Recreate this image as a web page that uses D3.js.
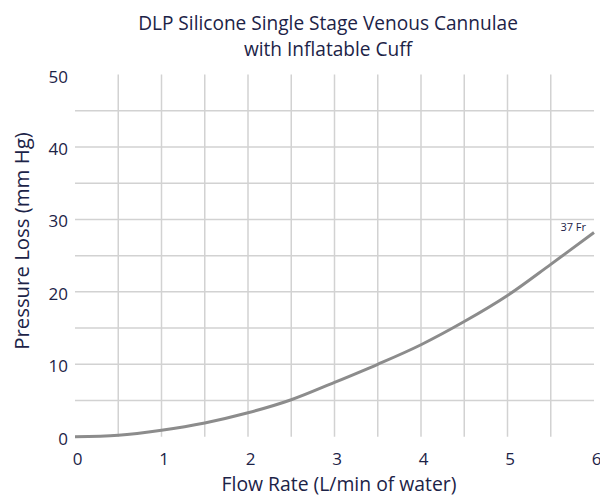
<!DOCTYPE html>
<html>
<head>
<meta charset="utf-8">
<script src="https://cdn.jsdelivr.net/npm/d3@7"></script>
<style>
  html, body { margin: 0; padding: 0; background: #ffffff; }
  svg { display: block; }
</style>
</head>
<body>
<svg id="chart" width="600" height="496"></svg>
<script>
// ---- data ----
const flowRates = [0, 0.5, 1, 1.5, 2, 2.5, 3, 3.5, 4, 4.5, 5, 5.5, 6];
const pressureLoss37Fr = [0, 0.2, 0.9, 1.9, 3.3, 5.1, 7.5, 10.0, 12.7, 15.9, 19.5, 23.8, 28.2];
const seriesName = "37 Fr";
const xTickValues = [0, 1, 2, 3, 4, 5, 6];
const yTickValues = [0, 10, 20, 30, 40, 50];
const xGridValues = [0.5, 1, 1.5, 2, 2.5, 3, 3.5, 4, 4.5, 5, 5.5];
const yGridValues = [5, 10, 15, 20, 25, 30, 35, 40, 45];
const titleLines = ["DLP Silicone Single Stage Venous Cannulae", "with Inflatable Cuff"];
const xTitle = "Flow Rate (L/min of water)";
const yTitle = "Pressure Loss (mm Hg)";

// ---- layout ----
const font = "'Open Sans', sans-serif";
const textColor = "#1c2347";
const svg = d3.select("#chart");
const x = d3.scaleLinear().domain([0, 6]).range([75, 594]);
const y = d3.scaleLinear().domain([0, 50]).range([436.7, 74.6]);

// fit helper: font size so text reaches a target width
function fitSize(sel, target, base) {
  const w = sel.node().getComputedTextLength();
  return w > 0 ? base * target / w : base;
}

// grid
const grid = svg.append("g");
grid.selectAll("line.v").data(xGridValues).enter().append("line")
  .attr("x1", d => x(d)).attr("x2", d => x(d))
  .attr("y1", y(50)).attr("y2", y(0))
  .attr("stroke", "#d2d2d2").attr("stroke-width", 1.5);
grid.selectAll("line.h").data(yGridValues).enter().append("line")
  .attr("x1", x(0)).attr("x2", x(6))
  .attr("y1", d => y(d)).attr("y2", d => y(d))
  .attr("stroke", "#d2d2d2").attr("stroke-width", 1.5);

// axes (labels only)
const xAxis = d3.axisBottom(x).tickValues(xTickValues).tickSize(0).tickPadding(0).tickFormat(d3.format("d"));
const gx = svg.append("g").attr("transform", `translate(2,${y(0) + 28.5})`).call(xAxis);
gx.select(".domain").remove();
gx.selectAll("text").attr("font-family", font).attr("font-size", 17).attr("fill", textColor).attr("dy", null);

const yAxis = d3.axisLeft(y).tickValues(yTickValues).tickSize(0).tickPadding(0).tickFormat(d3.format("d"));
const gy = svg.append("g").attr("transform", `translate(68,2)`).call(yAxis);
gy.select(".domain").remove();
gy.selectAll("text").attr("font-family", font).attr("font-size", 17).attr("fill", textColor);

// line
const line = d3.line()
  .x((d, i) => x(flowRates[i]))
  .y(d => y(d))
  .curve(d3.curveCatmullRom.alpha(0.5));
svg.append("path")
  .datum(pressureLoss37Fr)
  .attr("d", line)
  .attr("fill", "none")
  .attr("stroke", "#8c8c8c")
  .attr("stroke-width", 3);

// series label
svg.append("text")
  .attr("x", x(6) - 8).attr("y", y(pressureLoss37Fr[pressureLoss37Fr.length - 1]) - 1)
  .attr("text-anchor", "end")
  .attr("font-family", font).attr("font-size", 11).attr("fill", textColor)
  .text(seriesName);

// titles
const t1 = svg.append("text")
  .attr("x", 328).attr("y", 30)
  .attr("text-anchor", "middle")
  .attr("font-family", font).attr("font-size", 18).attr("fill", textColor)
  .text(titleLines[0]);
const titleSize = fitSize(t1, 380, 18);
t1.attr("font-size", titleSize);
svg.append("text")
  .attr("x", 328).attr("y", 55.5)
  .attr("text-anchor", "middle")
  .attr("font-family", font).attr("font-size", titleSize).attr("fill", textColor)
  .text(titleLines[1]);

const xt = svg.append("text")
  .attr("x", 339).attr("y", 491)
  .attr("text-anchor", "middle")
  .attr("font-family", font).attr("font-size", 18).attr("fill", textColor)
  .text(xTitle);
xt.attr("font-size", fitSize(xt, 235, 18));

const yt = svg.append("text")
  .attr("transform", `translate(29,241) rotate(-90)`)
  .attr("text-anchor", "middle")
  .attr("font-family", font).attr("font-size", 18).attr("fill", textColor)
  .text(yTitle);
yt.attr("font-size", fitSize(yt, 218, 18));
</script>
</body>
</html>
